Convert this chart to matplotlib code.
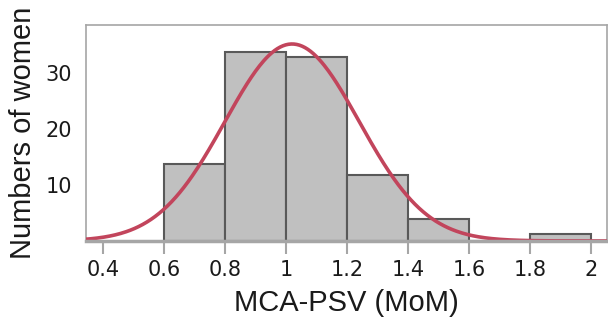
import numpy as np
import matplotlib.pyplot as plt

# histogram bins (MoM) and counts
bin_edges = [0.6, 0.8, 1.0, 1.2, 1.4, 1.6, 1.8, 2.0]
counts = [13.8, 33.8, 32.9, 11.8, 4.0, 0, 1.3]

# fitted normal curve
fit_mean = 1.02
fit_sd = 0.22
fit_peak = 35.2

x_ticks = [0.4, 0.6, 0.8, 1.0, 1.2, 1.4, 1.6, 1.8, 2.0]
x_tick_labels = ["0.4", "0.6", "0.8", "1", "1.2", "1.4", "1.6", "1.8", "2"]
y_ticks = [10, 20, 30]

fig = plt.figure(figsize=(6.08, 3.2), dpi=100)
ax = fig.add_axes([0.1414, 0.247, 0.857, 0.675])

lefts = bin_edges[:-1]
widths = np.diff(bin_edges)
ax.bar(lefts, counts, width=widths, align="edge", color="#c0c0c0",
       edgecolor="#595959", linewidth=1.5, zorder=2)

xs = np.linspace(0.3, 2.1, 400)
ys = fit_peak * np.exp(-(xs - fit_mean) ** 2 / (2 * fit_sd ** 2))
ax.plot(xs, ys, color="#c2455c", linewidth=2.6, zorder=3)

ax.set_xlim(0.344, 2.053)
ax.set_ylim(0, 38.6)
ax.set_xticks(x_ticks)
ax.set_xticklabels(x_tick_labels)
ax.set_yticks(y_ticks)

for side in ["left", "top", "right"]:
    ax.spines[side].set_color("#a6a6a6")
    ax.spines[side].set_linewidth(1.2)
ax.spines["bottom"].set_color("#a6a6a6")
ax.spines["bottom"].set_linewidth(2.5)
ax.spines["bottom"].set_zorder(4)

ax.tick_params(axis="x", length=9, width=1.5, color="#a6a6a6",
               labelsize=15, labelcolor="#1a1a1a", pad=5)
ax.tick_params(axis="y", length=0, labelsize=15, labelcolor="#1a1a1a", pad=10)

ax.set_xlabel("MCA-PSV (MoM)", fontsize=21, family="Liberation Sans",
              color="#1a1a1a", labelpad=6)
ax.set_ylabel("Numbers of women", fontsize=21, family="Liberation Sans",
              color="#1a1a1a", labelpad=6)

fig.savefig("out.png", dpi=100)
